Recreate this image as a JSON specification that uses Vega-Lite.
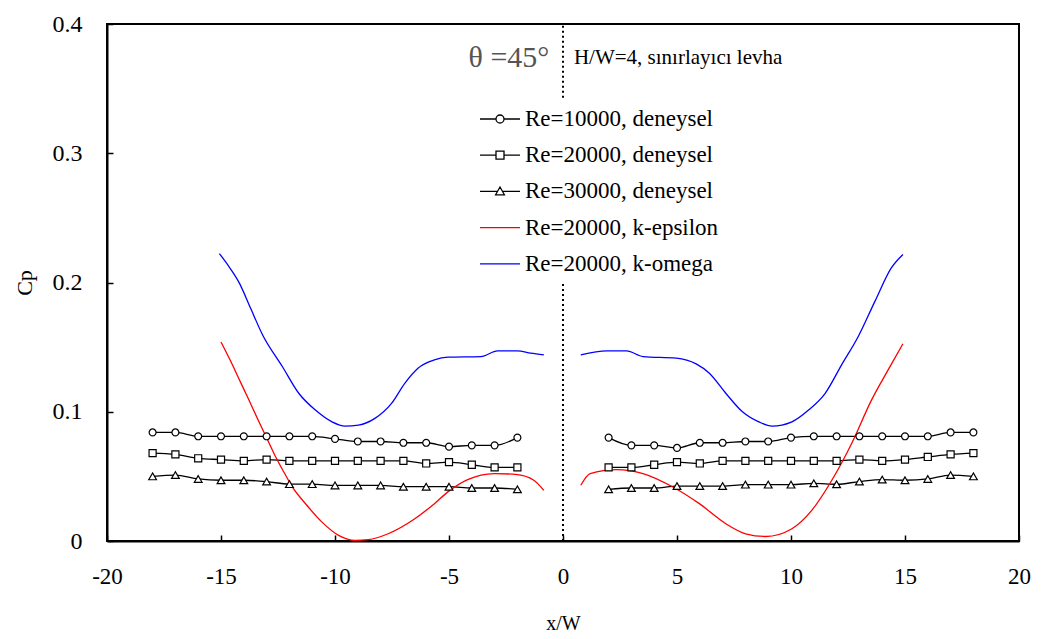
{
  "$schema": "https://vega.github.io/schema/vega-lite/v6.json",
  "autosize": {"type": "none"},
  "width": 912,
  "height": 517,
  "padding": {"left": 107, "top": 24, "right": 22, "bottom": 98},
  "background": "white",
  "config": {
    "view": {"stroke": "black", "strokeWidth": 2},
    "font": "Liberation Serif",
    "axis": {"domainColor": "black", "domainWidth": 2, "tickColor": "black", "tickWidth": 1.5, "labelColor": "black", "titleColor": "black", "labelFont": "Liberation Serif", "titleFont": "Liberation Serif", "titleFontWeight": "normal", "grid": false, "labelFlush": false, "labelOverlap": false}
  },
  "datasets": {
    "pts": [
      {"s":"Re=10000, deneysel","g":"L","x":-18,"cp":0.084},{"s":"Re=10000, deneysel","g":"L","x":-17,"cp":0.084},{"s":"Re=10000, deneysel","g":"L","x":-16,"cp":0.081},{"s":"Re=10000, deneysel","g":"L","x":-15,"cp":0.081},{"s":"Re=10000, deneysel","g":"L","x":-14,"cp":0.081},{"s":"Re=10000, deneysel","g":"L","x":-13,"cp":0.081},{"s":"Re=10000, deneysel","g":"L","x":-12,"cp":0.081},{"s":"Re=10000, deneysel","g":"L","x":-11,"cp":0.081},{"s":"Re=10000, deneysel","g":"L","x":-10,"cp":0.079},{"s":"Re=10000, deneysel","g":"L","x":-9,"cp":0.077},{"s":"Re=10000, deneysel","g":"L","x":-8,"cp":0.077},{"s":"Re=10000, deneysel","g":"L","x":-7,"cp":0.076},{"s":"Re=10000, deneysel","g":"L","x":-6,"cp":0.076},{"s":"Re=10000, deneysel","g":"L","x":-5,"cp":0.073},{"s":"Re=10000, deneysel","g":"L","x":-4,"cp":0.074},{"s":"Re=10000, deneysel","g":"L","x":-3,"cp":0.074},{"s":"Re=10000, deneysel","g":"L","x":-2,"cp":0.080},
      {"s":"Re=10000, deneysel","g":"R","x":2,"cp":0.080},{"s":"Re=10000, deneysel","g":"R","x":3,"cp":0.074},{"s":"Re=10000, deneysel","g":"R","x":4,"cp":0.074},{"s":"Re=10000, deneysel","g":"R","x":5,"cp":0.072},{"s":"Re=10000, deneysel","g":"R","x":6,"cp":0.076},{"s":"Re=10000, deneysel","g":"R","x":7,"cp":0.076},{"s":"Re=10000, deneysel","g":"R","x":8,"cp":0.077},{"s":"Re=10000, deneysel","g":"R","x":9,"cp":0.077},{"s":"Re=10000, deneysel","g":"R","x":10,"cp":0.080},{"s":"Re=10000, deneysel","g":"R","x":11,"cp":0.081},{"s":"Re=10000, deneysel","g":"R","x":12,"cp":0.081},{"s":"Re=10000, deneysel","g":"R","x":13,"cp":0.081},{"s":"Re=10000, deneysel","g":"R","x":14,"cp":0.081},{"s":"Re=10000, deneysel","g":"R","x":15,"cp":0.081},{"s":"Re=10000, deneysel","g":"R","x":16,"cp":0.081},{"s":"Re=10000, deneysel","g":"R","x":17,"cp":0.084},{"s":"Re=10000, deneysel","g":"R","x":18,"cp":0.084},
      {"s":"Re=20000, deneysel","g":"L","x":-18,"cp":0.068},{"s":"Re=20000, deneysel","g":"L","x":-17,"cp":0.067},{"s":"Re=20000, deneysel","g":"L","x":-16,"cp":0.064},{"s":"Re=20000, deneysel","g":"L","x":-15,"cp":0.063},{"s":"Re=20000, deneysel","g":"L","x":-14,"cp":0.062},{"s":"Re=20000, deneysel","g":"L","x":-13,"cp":0.063},{"s":"Re=20000, deneysel","g":"L","x":-12,"cp":0.062},{"s":"Re=20000, deneysel","g":"L","x":-11,"cp":0.062},{"s":"Re=20000, deneysel","g":"L","x":-10,"cp":0.062},{"s":"Re=20000, deneysel","g":"L","x":-9,"cp":0.062},{"s":"Re=20000, deneysel","g":"L","x":-8,"cp":0.062},{"s":"Re=20000, deneysel","g":"L","x":-7,"cp":0.062},{"s":"Re=20000, deneysel","g":"L","x":-6,"cp":0.060},{"s":"Re=20000, deneysel","g":"L","x":-5,"cp":0.061},{"s":"Re=20000, deneysel","g":"L","x":-4,"cp":0.059},{"s":"Re=20000, deneysel","g":"L","x":-3,"cp":0.057},{"s":"Re=20000, deneysel","g":"L","x":-2,"cp":0.057},
      {"s":"Re=20000, deneysel","g":"R","x":2,"cp":0.057},{"s":"Re=20000, deneysel","g":"R","x":3,"cp":0.057},{"s":"Re=20000, deneysel","g":"R","x":4,"cp":0.059},{"s":"Re=20000, deneysel","g":"R","x":5,"cp":0.061},{"s":"Re=20000, deneysel","g":"R","x":6,"cp":0.060},{"s":"Re=20000, deneysel","g":"R","x":7,"cp":0.062},{"s":"Re=20000, deneysel","g":"R","x":8,"cp":0.062},{"s":"Re=20000, deneysel","g":"R","x":9,"cp":0.062},{"s":"Re=20000, deneysel","g":"R","x":10,"cp":0.062},{"s":"Re=20000, deneysel","g":"R","x":11,"cp":0.062},{"s":"Re=20000, deneysel","g":"R","x":12,"cp":0.062},{"s":"Re=20000, deneysel","g":"R","x":13,"cp":0.063},{"s":"Re=20000, deneysel","g":"R","x":14,"cp":0.062},{"s":"Re=20000, deneysel","g":"R","x":15,"cp":0.063},{"s":"Re=20000, deneysel","g":"R","x":16,"cp":0.065},{"s":"Re=20000, deneysel","g":"R","x":17,"cp":0.067},{"s":"Re=20000, deneysel","g":"R","x":18,"cp":0.068},
      {"s":"Re=30000, deneysel","g":"L","x":-18,"cp":0.050},{"s":"Re=30000, deneysel","g":"L","x":-17,"cp":0.051},{"s":"Re=30000, deneysel","g":"L","x":-16,"cp":0.048},{"s":"Re=30000, deneysel","g":"L","x":-15,"cp":0.047},{"s":"Re=30000, deneysel","g":"L","x":-14,"cp":0.047},{"s":"Re=30000, deneysel","g":"L","x":-13,"cp":0.046},{"s":"Re=30000, deneysel","g":"L","x":-12,"cp":0.044},{"s":"Re=30000, deneysel","g":"L","x":-11,"cp":0.044},{"s":"Re=30000, deneysel","g":"L","x":-10,"cp":0.043},{"s":"Re=30000, deneysel","g":"L","x":-9,"cp":0.043},{"s":"Re=30000, deneysel","g":"L","x":-8,"cp":0.043},{"s":"Re=30000, deneysel","g":"L","x":-7,"cp":0.042},{"s":"Re=30000, deneysel","g":"L","x":-6,"cp":0.042},{"s":"Re=30000, deneysel","g":"L","x":-5,"cp":0.042},{"s":"Re=30000, deneysel","g":"L","x":-4,"cp":0.041},{"s":"Re=30000, deneysel","g":"L","x":-3,"cp":0.041},{"s":"Re=30000, deneysel","g":"L","x":-2,"cp":0.040},
      {"s":"Re=30000, deneysel","g":"R","x":2,"cp":0.040},{"s":"Re=30000, deneysel","g":"R","x":3,"cp":0.041},{"s":"Re=30000, deneysel","g":"R","x":4,"cp":0.041},{"s":"Re=30000, deneysel","g":"R","x":5,"cp":0.0425},{"s":"Re=30000, deneysel","g":"R","x":6,"cp":0.0425},{"s":"Re=30000, deneysel","g":"R","x":7,"cp":0.0425},{"s":"Re=30000, deneysel","g":"R","x":8,"cp":0.0436},{"s":"Re=30000, deneysel","g":"R","x":9,"cp":0.0436},{"s":"Re=30000, deneysel","g":"R","x":10,"cp":0.0436},{"s":"Re=30000, deneysel","g":"R","x":11,"cp":0.0446},{"s":"Re=30000, deneysel","g":"R","x":12,"cp":0.0439},{"s":"Re=30000, deneysel","g":"R","x":13,"cp":0.046},{"s":"Re=30000, deneysel","g":"R","x":14,"cp":0.0475},{"s":"Re=30000, deneysel","g":"R","x":15,"cp":0.047},{"s":"Re=30000, deneysel","g":"R","x":16,"cp":0.048},{"s":"Re=30000, deneysel","g":"R","x":17,"cp":0.051},{"s":"Re=30000, deneysel","g":"R","x":18,"cp":0.050},
      {"s":"Re=20000, k-epsilon","g":"L","x":-15,"cp":0.154},{"s":"Re=20000, k-epsilon","g":"L","x":-14.6,"cp":0.140},{"s":"Re=20000, k-epsilon","g":"L","x":-14.2,"cp":0.125},{"s":"Re=20000, k-epsilon","g":"L","x":-13.8,"cp":0.110},{"s":"Re=20000, k-epsilon","g":"L","x":-13.33,"cp":0.092},{"s":"Re=20000, k-epsilon","g":"L","x":-12.95,"cp":0.078},{"s":"Re=20000, k-epsilon","g":"L","x":-12.6,"cp":0.065},{"s":"Re=20000, k-epsilon","g":"L","x":-12.2,"cp":0.052},{"s":"Re=20000, k-epsilon","g":"L","x":-11.88,"cp":0.042},{"s":"Re=20000, k-epsilon","g":"L","x":-11.3,"cp":0.029},{"s":"Re=20000, k-epsilon","g":"L","x":-10.57,"cp":0.0146},{"s":"Re=20000, k-epsilon","g":"L","x":-9.84,"cp":0.0043},{"s":"Re=20000, k-epsilon","g":"L","x":-9.12,"cp":0.0004},{"s":"Re=20000, k-epsilon","g":"L","x":-8.54,"cp":0.001},{"s":"Re=20000, k-epsilon","g":"L","x":-7.67,"cp":0.0056},{"s":"Re=20000, k-epsilon","g":"L","x":-6.5,"cp":0.0172},{"s":"Re=20000, k-epsilon","g":"L","x":-5.64,"cp":0.0289},{"s":"Re=20000, k-epsilon","g":"L","x":-5.05,"cp":0.038},{"s":"Re=20000, k-epsilon","g":"L","x":-4.18,"cp":0.0475},{"s":"Re=20000, k-epsilon","g":"L","x":-3.02,"cp":0.0522},{"s":"Re=20000, k-epsilon","g":"L","x":-2.0,"cp":0.0514},{"s":"Re=20000, k-epsilon","g":"L","x":-1.28,"cp":0.047},{"s":"Re=20000, k-epsilon","g":"L","x":-0.84,"cp":0.0392},
      {"s":"Re=20000, k-epsilon","g":"R","x":0.78,"cp":0.0431},{"s":"Re=20000, k-epsilon","g":"R","x":1.19,"cp":0.0522},{"s":"Re=20000, k-epsilon","g":"R","x":2.35,"cp":0.0553},{"s":"Re=20000, k-epsilon","g":"R","x":3.51,"cp":0.0522},{"s":"Re=20000, k-epsilon","g":"R","x":4.82,"cp":0.0418},{"s":"Re=20000, k-epsilon","g":"R","x":5.98,"cp":0.0289},{"s":"Re=20000, k-epsilon","g":"R","x":7.14,"cp":0.0134},{"s":"Re=20000, k-epsilon","g":"R","x":8.01,"cp":0.0056},{"s":"Re=20000, k-epsilon","g":"R","x":8.89,"cp":0.0035},{"s":"Re=20000, k-epsilon","g":"R","x":10.04,"cp":0.0095},{"s":"Re=20000, k-epsilon","g":"R","x":10.91,"cp":0.0237},{"s":"Re=20000, k-epsilon","g":"R","x":11.79,"cp":0.047},{"s":"Re=20000, k-epsilon","g":"R","x":12.66,"cp":0.0755},{"s":"Re=20000, k-epsilon","g":"R","x":13.53,"cp":0.109},{"s":"Re=20000, k-epsilon","g":"R","x":14.26,"cp":0.1324},{"s":"Re=20000, k-epsilon","g":"R","x":14.91,"cp":0.1526},
      {"s":"Re=20000, k-omega","g":"L","x":-15.07,"cp":0.2224},{"s":"Re=20000, k-omega","g":"L","x":-14.6,"cp":0.211},{"s":"Re=20000, k-omega","g":"L","x":-14.2,"cp":0.1997},{"s":"Re=20000, k-omega","g":"L","x":-13.7,"cp":0.18},{"s":"Re=20000, k-omega","g":"L","x":-13.18,"cp":0.1596},{"s":"Re=20000, k-omega","g":"L","x":-12.31,"cp":0.135},{"s":"Re=20000, k-omega","g":"L","x":-11.59,"cp":0.1143},{"s":"Re=20000, k-omega","g":"L","x":-10.86,"cp":0.1013},{"s":"Re=20000, k-omega","g":"L","x":-10.13,"cp":0.0922},{"s":"Re=20000, k-omega","g":"L","x":-9.56,"cp":0.0889},{"s":"Re=20000, k-omega","g":"L","x":-8.97,"cp":0.0897},{"s":"Re=20000, k-omega","g":"L","x":-8.25,"cp":0.0949},{"s":"Re=20000, k-omega","g":"L","x":-7.52,"cp":0.1065},{"s":"Re=20000, k-omega","g":"L","x":-6.94,"cp":0.122},{"s":"Re=20000, k-omega","g":"L","x":-6.36,"cp":0.1337},{"s":"Re=20000, k-omega","g":"L","x":-5.64,"cp":0.1401},{"s":"Re=20000, k-omega","g":"L","x":-5.05,"cp":0.1422},{"s":"Re=20000, k-omega","g":"L","x":-3.6,"cp":0.1427},{"s":"Re=20000, k-omega","g":"L","x":-2.87,"cp":0.1471},{"s":"Re=20000, k-omega","g":"L","x":-2.0,"cp":0.1471},{"s":"Re=20000, k-omega","g":"L","x":-1.42,"cp":0.1453},{"s":"Re=20000, k-omega","g":"L","x":-0.84,"cp":0.144},
      {"s":"Re=20000, k-omega","g":"R","x":0.78,"cp":0.144},{"s":"Re=20000, k-omega","g":"R","x":1.92,"cp":0.1471},{"s":"Re=20000, k-omega","g":"R","x":2.79,"cp":0.1471},{"s":"Re=20000, k-omega","g":"R","x":3.51,"cp":0.1427},{"s":"Re=20000, k-omega","g":"R","x":4.97,"cp":0.1415},{"s":"Re=20000, k-omega","g":"R","x":5.84,"cp":0.137},{"s":"Re=20000, k-omega","g":"R","x":6.42,"cp":0.1298},{"s":"Re=20000, k-omega","g":"R","x":7.14,"cp":0.1143},{"s":"Re=20000, k-omega","g":"R","x":7.87,"cp":0.1},{"s":"Re=20000, k-omega","g":"R","x":8.59,"cp":0.0922},{"s":"Re=20000, k-omega","g":"R","x":9.17,"cp":0.0889},{"s":"Re=20000, k-omega","g":"R","x":10.04,"cp":0.0922},{"s":"Re=20000, k-omega","g":"R","x":10.77,"cp":0.1013},{"s":"Re=20000, k-omega","g":"R","x":11.5,"cp":0.1143},{"s":"Re=20000, k-omega","g":"R","x":12.22,"cp":0.1363},{"s":"Re=20000, k-omega","g":"R","x":12.95,"cp":0.1582},{"s":"Re=20000, k-omega","g":"R","x":13.68,"cp":0.1854},{"s":"Re=20000, k-omega","g":"R","x":14.4,"cp":0.2113},{"s":"Re=20000, k-omega","g":"R","x":14.91,"cp":0.2217}
    ],
    "zero": [
      {"x": 0, "y1": 0, "y2": 0.2},
      {"x": 0, "y1": 0.343, "y2": 0.4}
    ],
    "notes": [
      {"t": "θ =45°", "side": "left"},
      {"t": "H/W=4, sınırlayıcı levha", "side": "right"}
    ]
  },
  "layer": [
    {
      "data": {"name": "zero"},
      "mark": {"type": "rule", "color": "black", "strokeWidth": 2, "strokeDash": [2, 3]},
      "encoding": {
        "x": {"field": "x", "type": "quantitative", "scale": {"domain": [-20, 20], "nice": false, "zero": false},
          "axis": {"values": [-20, -15, -10, -5, 0, 5, 10, 15, 20], "labelExpr": "'' + datum.value", "labelFontSize": 23, "tickSize": -6, "labelPadding": 30, "title": "x/W", "titleFontSize": 20, "titlePadding": 25}},
        "y": {"field": "y1", "type": "quantitative", "scale": {"domain": [0, 0.4], "nice": false},
          "axis": {"values": [0, 0.1, 0.2, 0.3, 0.4], "format": ".1~f", "labelFontSize": 24, "tickSize": -6, "labelPadding": 31, "title": "Cp", "titleFontSize": 22, "titlePadding": 16}},
        "y2": {"field": "y2"}
      }
    },
    {
      "data": {"name": "pts"},
      "transform": [{"filter": "indexof(datum.s, 'deneysel') >= 0"}],
      "mark": {"type": "line", "strokeWidth": 1.3, "interpolate": "monotone", "color": "black"},
      "encoding": {
        "x": {"field": "x", "type": "quantitative", "scale": {"domain": [-20, 20], "nice": false, "zero": false}},
        "y": {"field": "cp", "type": "quantitative", "scale": {"domain": [0, 0.4], "nice": false}},
        "detail": [{"field": "s"}, {"field": "g"}], "order": {"field": "x", "type": "quantitative"}}
    },
    {
      "data": {"name": "pts"},
      "transform": [{"filter": "datum.s === 'Re=20000, k-epsilon'"}],
      "mark": {"type": "line", "strokeWidth": 1.3, "interpolate": "monotone", "color": "#ff0000"},
      "encoding": {
        "x": {"field": "x", "type": "quantitative", "scale": {"domain": [-20, 20], "nice": false, "zero": false}},
        "y": {"field": "cp", "type": "quantitative", "scale": {"domain": [0, 0.4], "nice": false}},
        "detail": {"field": "g"}, "order": {"field": "x", "type": "quantitative"}}
    },
    {
      "data": {"name": "pts"},
      "transform": [{"filter": "datum.s === 'Re=20000, k-omega'"}],
      "mark": {"type": "line", "strokeWidth": 1.3, "interpolate": "monotone", "color": "#0000ff"},
      "encoding": {
        "x": {"field": "x", "type": "quantitative", "scale": {"domain": [-20, 20], "nice": false, "zero": false}},
        "y": {"field": "cp", "type": "quantitative", "scale": {"domain": [0, 0.4], "nice": false}},
        "detail": {"field": "g"}, "order": {"field": "x", "type": "quantitative"}}
    },
    {
      "data": {"name": "pts"},
      "transform": [{"filter": "datum.s === 'Re=10000, deneysel'"}],
      "mark": {"type": "point", "shape": "circle", "filled": true, "fill": "white", "stroke": "black", "strokeWidth": 1.2, "size": 48, "opacity": 1},
      "encoding": {
        "x": {"field": "x", "type": "quantitative", "scale": {"domain": [-20, 20], "nice": false, "zero": false}},
        "y": {"field": "cp", "type": "quantitative", "scale": {"domain": [0, 0.4], "nice": false}}}
    },
    {
      "data": {"name": "pts"},
      "transform": [{"filter": "datum.s === 'Re=20000, deneysel'"}],
      "mark": {"type": "point", "shape": "square", "filled": true, "fill": "white", "stroke": "black", "strokeWidth": 1.2, "size": 50, "opacity": 1},
      "encoding": {
        "x": {"field": "x", "type": "quantitative", "scale": {"domain": [-20, 20], "nice": false, "zero": false}},
        "y": {"field": "cp", "type": "quantitative", "scale": {"domain": [0, 0.4], "nice": false}}}
    },
    {
      "data": {"name": "pts"},
      "transform": [{"filter": "datum.s === 'Re=30000, deneysel'"}],
      "mark": {"type": "point", "shape": "triangle-up", "filled": true, "fill": "white", "stroke": "black", "strokeWidth": 1.2, "size": 60, "opacity": 1},
      "encoding": {
        "x": {"field": "x", "type": "quantitative", "scale": {"domain": [-20, 20], "nice": false, "zero": false}},
        "y": {"field": "cp", "type": "quantitative", "scale": {"domain": [0, 0.4], "nice": false}}}
    },
    {
      "data": {"name": "pts"},
      "mark": {"type": "point", "opacity": 0, "filled": false},
      "encoding": {
        "x": {"field": "x", "type": "quantitative", "scale": {"domain": [-20, 20], "nice": false, "zero": false}},
        "y": {"field": "cp", "type": "quantitative", "scale": {"domain": [0, 0.4], "nice": false}},
        "color": {"field": "s", "type": "nominal", "scale": {"domain": ["Re=10000, deneysel", "Re=20000, deneysel", "Re=30000, deneysel", "Re=20000, k-epsilon", "Re=20000, k-omega"], "range": ["black", "black", "black", "#ff0000", "#0000ff"]},
          "legend": {"title": null, "orient": "none", "legendX": 372, "legendY": 74, "symbolSize": 1600, "symbolOpacity": 1, "symbolStrokeWidth": 1.3, "labelFont": "Liberation Serif", "labelFontSize": 23, "labelColor": "black", "labelOffset": 4, "labelLimit": 0, "rowPadding": 3.2, "padding": 0, "fillColor": "white"}},
        "shape": {"field": "s", "type": "nominal", "scale": {"domain": ["Re=10000, deneysel", "Re=20000, deneysel", "Re=30000, deneysel", "Re=20000, k-epsilon", "Re=20000, k-omega"], "range": ["M-1,0H-0.2M0.2,0H1M0.2,0A0.2,0.2,0,1,1,-0.2,0A0.2,0.2,0,1,1,0.2,0", "M-1,0H-0.2M0.2,0H1M-0.2,-0.2H0.2V0.2H-0.2Z", "M-1,0H-0.12M0.12,0H1M0,-0.22L0.22,0.17H-0.22Z", "M-1,0H1", "M-1,0H1"]},
          "legend": {"title": null, "orient": "none", "legendX": 372, "legendY": 74, "symbolSize": 1600, "symbolOpacity": 1, "symbolStrokeWidth": 1.3, "labelFont": "Liberation Serif", "labelFontSize": 23, "labelColor": "black", "labelOffset": 4, "labelLimit": 0, "rowPadding": 3.2, "padding": 0, "fillColor": "white"}}
      }
    },
    {
      "data": {"name": "notes"},
      "transform": [{"filter": "datum.side === 'left'"}],
      "mark": {"type": "text", "align": "right", "baseline": "middle", "font": "Liberation Serif", "fontSize": 30, "color": "#555555"},
      "encoding": {"x": {"datum": -0.6, "type": "quantitative"}, "y": {"datum": 0.374, "type": "quantitative"}, "text": {"field": "t"}}
    },
    {
      "data": {"name": "notes"},
      "transform": [{"filter": "datum.side === 'right'"}],
      "mark": {"type": "text", "align": "left", "baseline": "middle", "font": "Liberation Serif", "fontSize": 21, "color": "black"},
      "encoding": {"x": {"datum": 0.48, "type": "quantitative"}, "y": {"datum": 0.374, "type": "quantitative"}, "text": {"field": "t"}}
    }
  ]
}
